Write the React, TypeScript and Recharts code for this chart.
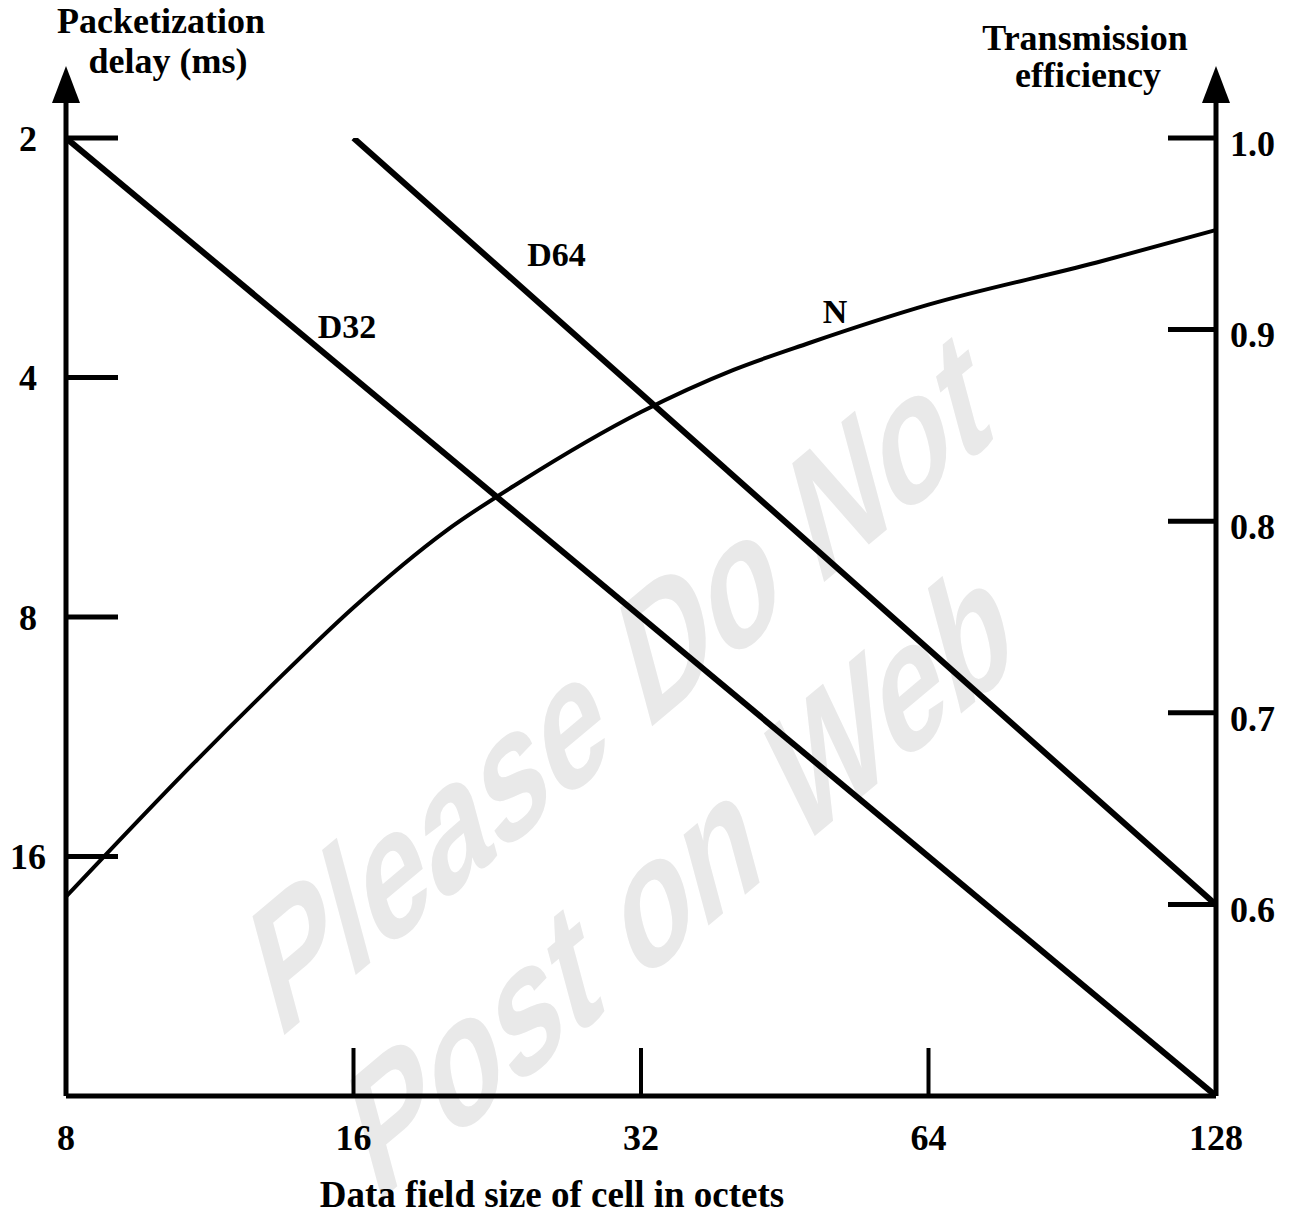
import React from "react";
import { LineChart, Line, XAxis, YAxis, ReferenceDot } from "recharts";

// cell data field size (octets), log axis
const sizeTicks = [8, 16, 32, 64, 128];
// packetization delay (ms), log axis, grows downward
const delayTicks = [2, 4, 8, 16];
// transmission efficiency
const effTicks = [0.6, 0.7, 0.8, 0.9, 1.0];

const d32Sizes = [8, 128];
const d32Delay = [2, 32];

const d64Sizes = [16, 128];
const d64Delay = [2, 18.4];

const nSizes = [8, 11, 13, 16, 20, 24, 32, 40, 48, 64, 96, 128];
const nEff = [0.604, 0.676, 0.712, 0.755, 0.795, 0.821, 0.857, 0.879, 0.893, 0.913, 0.935, 0.952];

const curveLabels = [
  { text: "D32", size: 15.75, value: 3.45, axis: "delay" },
  { text: "D64", size: 26.1, value: 2.8, axis: "delay" },
  { text: "N", size: 51.1, value: 0.91, axis: "eff" },
];

const watermark = ["Please Do Not", "Post on Web"];

const serif = '"Liberation Serif", "Times New Roman", serif';
const tickFont = { fill: "#000", fontSize: 36, fontWeight: 700, fontFamily: serif };

const d32 = d32Sizes.map((size, i) => ({ size, delay: d32Delay[i] }));
const d64 = d64Sizes.map((size, i) => ({ size, delay: d64Delay[i] }));
const nCurve = nSizes.map((size, i) => ({ size, eff: nEff[i] }));

export default function App() {
  return (
    <div style={{ position: "absolute", left: 0, top: 0, width: 1299, height: 1215, background: "#fff" }}>
      <svg width={1299} height={1215} style={{ position: "absolute", left: 0, top: 0 }}>
        <defs>
          <marker
            id="axisArrow"
            markerUnits="userSpaceOnUse"
            viewBox="0 -14 72 28"
            markerWidth={72}
            markerHeight={28}
            refX={0}
            refY={0}
            orient="auto-start-reverse"
          >
            <rect x={0} y={-2.5} width={37} height={5} fill="#000" />
            <path d="M35,-14 L72,0 L35,14 Z" fill="#000" />
          </marker>
        </defs>
        <g fill="#e9e9e9" fontFamily='"Liberation Sans", Arial, sans-serif' fontWeight={700} fontSize={162} textAnchor="middle">
          <text transform="translate(636,740) rotate(-40) skewX(-25) scale(0.86,1)">{watermark[0]}</text>
          <text transform="translate(697,935) rotate(-40) skewX(-25) scale(0.86,1)">{watermark[1]}</text>
        </g>
        <g fill="#000" fontFamily={serif} fontWeight={700} fontSize={36} textAnchor="middle">
          <text x={161} y={33}>Packetization</text>
          <text x={168} y={73}>delay (ms)</text>
          <text x={1085} y={50}>Transmission</text>
          <text x={1088} y={87}>efficiency</text>
          <text x={552} y={1207} fontSize={37}>Data field size of cell in octets</text>
        </g>
      </svg>
      <div style={{ position: "absolute", left: 0, top: 0 }}>
        <LineChart width={1299} height={1215} margin={{ top: 138, right: 0, bottom: 0, left: 0 }}>
          <XAxis
            type="number"
            dataKey="size"
            scale="log"
            domain={[8, 128]}
            ticks={sizeTicks}
            interval={0}
            allowDataOverflow
            height={119}
            axisLine={{ stroke: "#000", strokeWidth: 5 }}
            tickLine={{ stroke: "#000", strokeWidth: 4 }}
            tickSize={-48}
            tickMargin={76}
            tick={tickFont}
          />
          <YAxis
            yAxisId="delay"
            orientation="left"
            scale="log"
            domain={[2, 32]}
            reversed
            allowDataOverflow
            ticks={delayTicks}
            interval={0}
            width={66}
            axisLine={{ stroke: "#000", strokeWidth: 5, markerStart: "url(#axisArrow)" }}
            tickLine={{ stroke: "#000", strokeWidth: 5 }}
            tickSize={-52}
            tickMargin={90}
            tick={{ ...tickFont, textAnchor: "middle" }}
          />
          <YAxis
            yAxisId="eff"
            orientation="right"
            domain={[0.5, 1]}
            allowDataOverflow
            ticks={effTicks}
            interval={0}
            width={83}
            tickFormatter={(v: number) => v.toFixed(1)}
            axisLine={{ stroke: "#000", strokeWidth: 5, markerStart: "url(#axisArrow)" }}
            tickLine={{ stroke: "#000", strokeWidth: 5 }}
            tickSize={-48}
            tickMargin={62}
            tick={{ ...tickFont, dy: 5 }}
          />
          <Line
            data={d32}
            dataKey="delay"
            yAxisId="delay"
            type="linear"
            stroke="#000"
            strokeWidth={6}
            dot={false}
            activeDot={false}
            isAnimationActive={false}
          />
          <Line
            data={d64}
            dataKey="delay"
            yAxisId="delay"
            type="linear"
            stroke="#000"
            strokeWidth={6}
            dot={false}
            activeDot={false}
            isAnimationActive={false}
          />
          <Line
            data={nCurve}
            dataKey="eff"
            yAxisId="eff"
            type="monotone"
            stroke="#000"
            strokeWidth={4}
            dot={false}
            activeDot={false}
            isAnimationActive={false}
          />
          {curveLabels.map((l) => (
            <ReferenceDot
              key={l.text}
              x={l.size}
              y={l.value}
              yAxisId={l.axis}
              r={0}
              fill="none"
              stroke="none"
              label={{ value: l.text, position: "center", fill: "#000", fontSize: 34, fontWeight: 700, fontFamily: serif }}
            />
          ))}
        </LineChart>
      </div>
    </div>
  );
}
